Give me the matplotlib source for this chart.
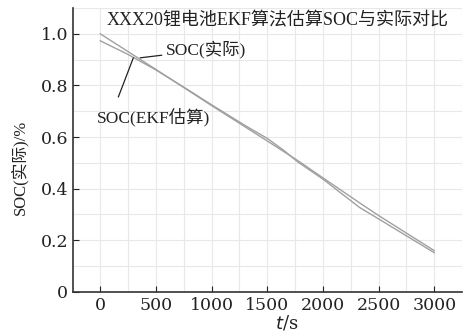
import matplotlib

matplotlib.use("Agg")

import matplotlib.pyplot as plt
from matplotlib.ticker import FixedLocator, FuncFormatter

plt.rcParams["font.family"] = ["DejaVu Serif", "Noto Sans CJK SC"]
NARROW = ["Liberation Serif", "Noto Sans CJK SC"]

# SOC
t_actual = [0, 500, 1000, 1500, 1770, 2000, 2330, 2500, 3000]
soc_actual = [1.0, 0.862, 0.722, 0.585, 0.51, 0.442, 0.345, 0.296, 0.16]

t_ekf = [0, 250, 500, 800, 1000, 1300, 1500, 1650, 1770, 2000, 2330, 2500, 3000]
soc_ekf = [0.973, 0.92, 0.86, 0.78, 0.725, 0.645, 0.595, 0.548, 0.505, 0.437, 0.327, 0.283, 0.152]

x_ticks = [0, 500, 1000, 1500, 2000, 2500, 3000]
y_ticks = [0, 0.2, 0.4, 0.6, 0.8, 1.0]

title = "XXX20锂电池EKF算法估算SOC与实际对比"

fig = plt.figure(figsize=(4.71, 3.34), dpi=100)
fig.patch.set_facecolor("white")
ax = fig.add_axes([0.155, 0.126, 0.826, 0.85])

line_color = "#a0a0a0"
ax.plot(t_actual, soc_actual, color=line_color, linewidth=1.0)
ax.plot(t_ekf, soc_ekf, color=line_color, linewidth=1.0)

ax.set_xlim(-245, 3250)
ax.set_ylim(0, 1.1)

ax.xaxis.set_major_locator(FixedLocator(x_ticks))
ax.yaxis.set_major_locator(FixedLocator(y_ticks))
ax.xaxis.set_minor_locator(FixedLocator([v for v in range(0, 3251, 250)]))
ax.yaxis.set_minor_locator(FixedLocator([i / 10 for i in range(0, 12)]))
ax.yaxis.set_major_formatter(FuncFormatter(lambda v, _: "0" if v == 0 else f"{v:.1f}"))

ax.grid(True, which="both", color="#e8e8e8", linewidth=0.8)
ax.set_axisbelow(True)
ax.tick_params(which="major", direction="in", length=4, width=0.8, labelsize=12.5, colors="#222222")
ax.tick_params(which="minor", length=0)

for side in ("top", "right"):
    ax.spines[side].set_visible(False)
for side in ("left", "bottom"):
    ax.spines[side].set_color("#333333")
    ax.spines[side].set_linewidth(1.2)

ax.text(0.527, 0.955, title, transform=ax.transAxes, ha="center", va="center",
        fontsize=13, color="#222222", family=NARROW)

ax.annotate("SOC(实际)", xy=(359, 0.907), xytext=(590, 0.938),
            fontsize=12.5, va="center", ha="left", color="#222222", family=NARROW,
            arrowprops=dict(arrowstyle="-", color="#222222", linewidth=0.9,
                            shrinkA=1, shrinkB=0))
ax.text(480, 0.677, "SOC(EKF估算)", fontsize=12.5, va="center", ha="center",
        color="#222222", family=NARROW)
ax.annotate("", xy=(297, 0.907), xytext=(162, 0.755),
            arrowprops=dict(arrowstyle="-", color="#222222", linewidth=0.9,
                            shrinkA=0, shrinkB=0))

ax.set_xlabel("$t$/s", fontsize=13, color="#222222")
ax.xaxis.set_label_coords(0.55, -0.075)
ax.set_ylabel("SOC(实际)/%", fontsize=12, color="#222222", family=NARROW)
ax.yaxis.set_label_coords(-0.115, 0.44)

fig.savefig("out.png", dpi=100, facecolor="white")
